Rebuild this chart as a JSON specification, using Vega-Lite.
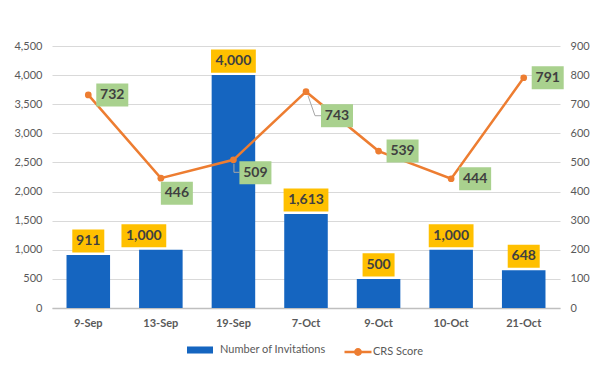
{
  "$schema": "https://vega.github.io/schema/vega-lite/v6.json",
  "width": 508,
  "height": 262,
  "autosize": {"type": "none"},
  "padding": {"left": 52, "top": 46, "right": 43, "bottom": 65},
  "background": "white",
  "config": {
    "view": {"stroke": null},
    "font": "Lato",
    "axis": {"labelFont": "Lato", "labelColor": "#595959", "labelFontSize": 11, "title": null},
    "legend": {"labelFont": "Lato", "labelColor": "#595959", "labelFontSize": 11}
  },
  "data": {
    "values": [
      {"date": "9-Sep", "inv": 911, "crs": 732},
      {"date": "13-Sep", "inv": 1000, "crs": 446},
      {"date": "19-Sep", "inv": 4000, "crs": 509},
      {"date": "7-Oct", "inv": 1613, "crs": 743},
      {"date": "9-Oct", "inv": 500, "crs": 539},
      {"date": "10-Oct", "inv": 1000, "crs": 444},
      {"date": "21-Oct", "inv": 648, "crs": 791}
    ]
  },
  "encoding": {
    "x": {
      "field": "date", "type": "nominal", "sort": null,
      "scale": {"paddingInner": 0.4, "paddingOuter": 0.2},
      "axis": {"labelAngle": 0, "ticks": false, "domainColor": "#BFBFBF", "domainWidth": 1.5, "labelFontWeight": "bold", "labelPadding": 9, "grid": false}
    }
  },
  "layer": [
    {
      "encoding": {
        "y": {
          "field": "inv", "type": "quantitative",
          "scale": {"domain": [0, 4500], "nice": false},
          "axis": {"values": [0, 500, 1000, 1500, 2000, 2500, 3000, 3500, 4000, 4500], "labelExpr": "format(datum.value, ',')", "grid": true, "gridColor": "#D9D9D9", "domain": false, "ticks": false, "labelPadding": 10}
        }
      },
      "layer": [
        {
          "mark": {"type": "bar"},
          "encoding": {
            "fill": {
              "datum": "Number of Invitations",
              "scale": {"range": ["#1565C0"]},
              "legend": {"orient": "none", "legendX": 135, "legendY": 291, "title": null, "symbolType": "M-1,-0.27H1V0.27H-1Z", "symbolSize": 676, "symbolStrokeWidth": 0, "labelOffset": 7}
            }
          }
        },
        {
          "transform": [{"filter": "datum.date != '13-Sep'"}],
          "mark": {"type": "point", "filled": true, "color": "#FFC000", "opacity": 1, "size": 1024, "yOffset": -14, "strokeWidth": 0},
          "encoding": {
            "shape": {"condition": {"test": "datum.inv >= 1000", "value": "M-1.4,-0.72H1.4V0.72H-1.4Z"}, "value": "M-1,-0.72H1V0.72H-1Z"}
          }
        },
        {
          "transform": [{"filter": "datum.date == '13-Sep'"}],
          "mark": {"type": "point", "filled": true, "color": "#FFC000", "opacity": 1, "size": 1024, "yOffset": -14, "xOffset": -17, "strokeWidth": 0, "shape": "M-1.4,-0.72H1.4V0.72H-1.4Z"}
        },
        {
          "transform": [{"filter": "datum.date != '13-Sep'"}],
          "mark": {"type": "text", "font": "Lato", "fontWeight": "bold", "fontSize": 14, "color": "#404040", "dy": -14, "baseline": "middle"},
          "encoding": {"text": {"field": "inv", "type": "quantitative", "format": ","}}
        },
        {
          "transform": [{"filter": "datum.date == '13-Sep'"}],
          "mark": {"type": "text", "font": "Lato", "fontWeight": "bold", "fontSize": 14, "color": "#404040", "dy": -14, "dx": -17, "baseline": "middle"},
          "encoding": {"text": {"field": "inv", "type": "quantitative", "format": ","}}
        }
      ]
    },
    {
      "encoding": {
        "y": {
          "field": "crs", "type": "quantitative",
          "scale": {"domain": [0, 900], "nice": false},
          "axis": {"orient": "right", "values": [0, 100, 200, 300, 400, 500, 600, 700, 800, 900], "grid": false, "domain": false, "ticks": false, "labelPadding": 10}
        }
      },
      "layer": [
        {
          "mark": {"type": "line", "strokeWidth": 2.5},
          "encoding": {
            "stroke": {
              "datum": "CRS Score",
              "scale": {"range": ["#ED7D31"]},
              "legend": {"orient": "none", "legendX": 291, "legendY": 291, "title": null, "symbolType": "M-1,0H1M0.2,0A0.2,0.2 0 1,1 -0.2,0A0.2,0.2 0 1,1 0.2,0", "symbolSize": 729, "symbolStrokeWidth": 2.5, "symbolFillColor": "#ED7D31", "labelOffset": 0}
            }
          }
        },
        {
          "mark": {"type": "point", "filled": true, "color": "#ED7D31", "opacity": 1, "size": 45}
        },
        {
          "transform": [{"filter": "datum.crs == 509"}],
          "mark": {"type": "point", "filled": false, "color": "#A6A6A6", "opacity": 1, "size": 4, "strokeWidth": 1, "shape": "M0.5,4L0.5,12.5H6"}
        },
        {
          "transform": [{"filter": "datum.crs == 743"}],
          "mark": {"type": "point", "filled": false, "color": "#A6A6A6", "opacity": 1, "size": 4, "strokeWidth": 1, "shape": "M2,4L9,24H16"}
        },
        {
          "transform": [{"filter": "datum.crs == 732 || datum.crs == 539 || datum.crs == 444 || datum.crs == 791"}],
          "mark": {"type": "point", "filled": true, "color": "#A9D18E", "opacity": 1, "size": 1024, "xOffset": 24, "strokeWidth": 0, "shape": "M-1,-0.72H1V0.72H-1Z"}
        },
        {
          "transform": [{"filter": "datum.crs == 732 || datum.crs == 539 || datum.crs == 444 || datum.crs == 791"}],
          "mark": {"type": "text", "font": "Lato", "fontWeight": "bold", "fontSize": 14, "color": "#404040", "dx": 24, "baseline": "middle"},
          "encoding": {"text": {"field": "crs", "type": "quantitative"}}
        },
        {
          "transform": [{"filter": "datum.crs == 446"}],
          "mark": {"type": "point", "filled": true, "color": "#A9D18E", "opacity": 1, "size": 1024, "xOffset": 16, "yOffset": 15, "strokeWidth": 0, "shape": "M-1,-0.72H1V0.72H-1Z"}
        },
        {
          "transform": [{"filter": "datum.crs == 446"}],
          "mark": {"type": "text", "font": "Lato", "fontWeight": "bold", "fontSize": 14, "color": "#404040", "dx": 16, "dy": 15, "baseline": "middle"},
          "encoding": {"text": {"field": "crs", "type": "quantitative"}}
        },
        {
          "transform": [{"filter": "datum.crs == 509"}],
          "mark": {"type": "point", "filled": true, "color": "#A9D18E", "opacity": 1, "size": 1024, "xOffset": 22, "yOffset": 13, "strokeWidth": 0, "shape": "M-1,-0.72H1V0.72H-1Z"}
        },
        {
          "transform": [{"filter": "datum.crs == 509"}],
          "mark": {"type": "text", "font": "Lato", "fontWeight": "bold", "fontSize": 14, "color": "#404040", "dx": 22, "dy": 13, "baseline": "middle"},
          "encoding": {"text": {"field": "crs", "type": "quantitative"}}
        },
        {
          "transform": [{"filter": "datum.crs == 743"}],
          "mark": {"type": "point", "filled": true, "color": "#A9D18E", "opacity": 1, "size": 1024, "xOffset": 31, "yOffset": 24, "strokeWidth": 0, "shape": "M-1,-0.72H1V0.72H-1Z"}
        },
        {
          "transform": [{"filter": "datum.crs == 743"}],
          "mark": {"type": "text", "font": "Lato", "fontWeight": "bold", "fontSize": 14, "color": "#404040", "dx": 31, "dy": 24, "baseline": "middle"},
          "encoding": {"text": {"field": "crs", "type": "quantitative"}}
        }
      ]
    }
  ],
  "resolve": {"scale": {"y": "independent", "fill": "independent", "stroke": "independent"}}
}
